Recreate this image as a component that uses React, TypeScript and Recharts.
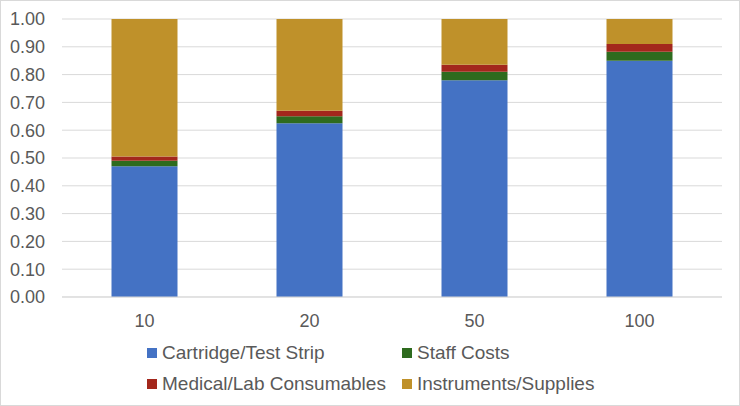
import React from 'react';
import { BarChart, Bar, XAxis, YAxis, CartesianGrid, Legend } from 'recharts';

const categories = ['10', '20', '50', '100'];
const cartridge = [0.47, 0.625, 0.78, 0.85];
const staff = [0.02, 0.025, 0.03, 0.032];
const consumables = [0.015, 0.02, 0.025, 0.028];
const instruments = [0.495, 0.33, 0.165, 0.09];
const yTicks = [0, 0.1, 0.2, 0.3, 0.4, 0.5, 0.6, 0.7, 0.8, 0.9, 1];

const series = [
  { key: 'cartridge', name: 'Cartridge/Test Strip', color: '#4472C4' },
  { key: 'staff', name: 'Staff Costs', color: '#2E6B1E' },
  { key: 'consumables', name: 'Medical/Lab Consumables', color: '#A3271C' },
  { key: 'instruments', name: 'Instruments/Supplies', color: '#BF912A' },
];

const data = categories.map((c, i) => ({
  category: c,
  cartridge: cartridge[i],
  staff: staff[i],
  consumables: consumables[i],
  instruments: instruments[i],
}));

const FONT = '"Liberation Sans", Arial, sans-serif';
const TEXT = '#595959';

const GridLegend = () => (
  <div
    style={{
      display: 'grid',
      gridTemplateColumns: '255px auto',
      gridAutoRows: '31px',
      paddingLeft: 147,
      paddingTop: 10,
      fontFamily: FONT,
      fontSize: 19,
      color: TEXT,
    }}
  >
    {series.map((s) => (
      <div key={s.key} style={{ display: 'flex', alignItems: 'center' }}>
        <span style={{ display: 'inline-block', width: 10, height: 10, background: s.color, marginRight: 5 }} />
        <span>{s.name}</span>
      </div>
    ))}
  </div>
);

export default function App() {
  return (
    <div
      style={{
        position: 'absolute',
        left: 0,
        top: 0,
        width: 740,
        height: 406,
        background: '#fff',
        border: '1px solid #D9D9D9',
        boxSizing: 'border-box',
      }}
    >
      <div style={{ position: 'absolute', left: -1, top: -1 }}>
        <BarChart
          width={740}
          height={406}
          data={data}
          margin={{ top: 19, right: 18, left: 0, bottom: 0 }}
          barCategoryGap="30%"
        >
          <CartesianGrid vertical={false} stroke="#D9D9D9" />
          <XAxis
            dataKey="category"
            height={30}
            tickLine={false}
            axisLine={{ stroke: '#D9D9D9' }}
            tickSize={0}
            tickMargin={17}
            tick={{ fill: TEXT, fontSize: 18, fontFamily: FONT }}
          />
          <YAxis
            width={62}
            domain={[0, 1]}
            ticks={yTicks}
            interval={0}
            axisLine={false}
            tickLine={false}
            tickSize={0}
            tickMargin={17}
            tickFormatter={(v: number) => v.toFixed(2)}
            tick={{ fill: TEXT, fontSize: 18, fontFamily: FONT }}
          />
          <Legend
            verticalAlign="bottom"
            height={79}
            wrapperStyle={{ left: 0, width: 740 }}
            content={() => <GridLegend />}
          />
          {series.map((s) => (
            <Bar
              key={s.key}
              dataKey={s.key}
              name={s.name}
              stackId="a"
              fill={s.color}
              isAnimationActive={false}
            />
          ))}
        </BarChart>
      </div>
    </div>
  );
}
